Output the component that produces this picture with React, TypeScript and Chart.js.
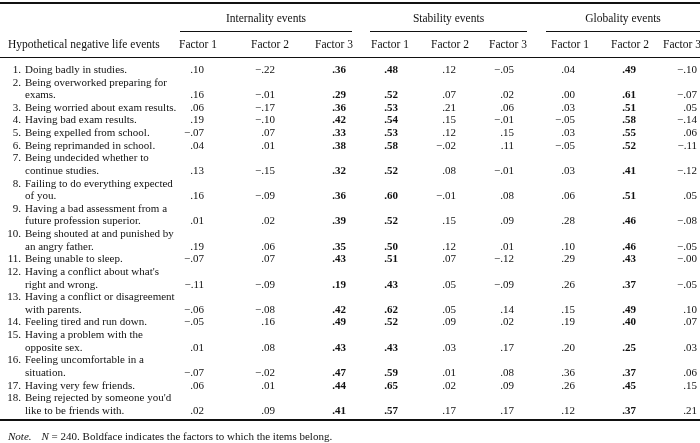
import React, { useEffect, useRef } from "react";
import { Chart, registerables } from "chart.js";
Chart.register(...registerables);

// ---------- data ----------
const itemLabels: string[][] = [
  ["Doing badly in studies."],
  ["Being overworked preparing for", "exams."],
  ["Being worried about exam results."],
  ["Having bad exam results."],
  ["Being expelled from school."],
  ["Being reprimanded in school."],
  ["Being undecided whether to", "continue studies."],
  ["Failing to do everything expected", "of you."],
  ["Having a bad assessment from a", "future profession superior."],
  ["Being shouted at and punished by", "an angry father."],
  ["Being unable to sleep."],
  ["Having a conflict about what's", "right and wrong."],
  ["Having a conflict or disagreement", "with parents."],
  ["Feeling tired and run down."],
  ["Having a problem with the", "opposite sex."],
  ["Feeling uncomfortable in a", "situation."],
  ["Having very few friends."],
  ["Being rejected by someone you'd", "like to be friends with."],
];

const internalityF1 = [.10, .16, .06, .19, -.07, .04, .13, .16, .01, .19, -.07, -.11, -.06, -.05, .01, -.07, .06, .02];
const internalityF2 = [-.22, -.01, -.17, -.10, .07, .01, -.15, -.09, .02, .06, .07, -.09, -.08, .16, .08, -.02, .01, .09];
const internalityF3 = [.36, .29, .36, .42, .33, .38, .32, .36, .39, .35, .43, .19, .42, .49, .43, .47, .44, .41];
const stabilityF1 = [.48, .52, .53, .54, .53, .58, .52, .60, .52, .50, .51, .43, .62, .52, .43, .59, .65, .57];
const stabilityF2 = [.12, .07, .21, .15, .12, -.02, .08, -.01, .15, .12, .07, .05, .05, .09, .03, .01, .02, .17];
const stabilityF3 = [-.05, .02, .06, -.01, .15, .11, -.01, .08, .09, .01, -.12, -.09, .14, .02, .17, .08, .09, .17];
const globalityF1 = [.04, .00, .03, -.05, .03, -.05, .03, .06, .28, .10, .29, .26, .15, .19, .20, .36, .26, .12];
const globalityF2 = [.49, .61, .51, .58, .55, .52, .41, .51, .46, .46, .43, .37, .49, .40, .25, .37, .45, .37];
const globalityF3 = [-.10, -.07, .05, -.14, .06, -.11, -.12, .05, -.08, -.05, -0, -.05, .10, .07, .03, .06, .15, .21];

const groupTitles = ["Internality events", "Stability events", "Globality events"];
const factorLabels = ["Factor 1", "Factor 2", "Factor 3"];
const boldFactor = [2, 0, 1]; // factor (0-based) in bold for each group
const rowHeader = "Hypothetical negative life events";
const noteLead = "Note.";
const noteN = "N";
const noteText = " = 240. Boldface indicates the factors to which the items belong.";

const columns = [internalityF1, internalityF2, internalityF3, stabilityF1, stabilityF2, stabilityF3, globalityF1, globalityF2, globalityF3];

// ---------- layout (not data) ----------
const COL_RIGHT = [204, 275, 346, 398, 456, 514, 575, 636, 697];
const COL_HEAD = [198, 270, 334, 390, 450, 508, 570, 630, 682];
const GROUP_LINE = [[180, 352], [370, 527], [546, 700]];
const NUM_RIGHT = 21;
const TEXT_X = 25;
const LEFT_X = 8;
const LINE_PX = 12.63;
const FIRST_LINE_PX = 70;
const H = 443;
const W = 700;
const Y_MIN = -FIRST_LINE_PX / LINE_PX;
const Y_MAX = Y_MIN + H / LINE_PX;
const FONT = "'Liberation Serif', 'Times New Roman', serif";
const FS = 11;
const FS_HEAD = 11.5;
const INK = "#111";

// line index of each item's first line
const itemStart: number[] = [];
{
  let l = 0;
  for (const lines of itemLabels) { itemStart.push(l); l += lines.length; }
}
const itemLast = itemLabels.map((lines, i) => itemStart[i] + lines.length - 1);
const totalLines = itemStart[itemStart.length - 1] + itemLabels[itemLabels.length - 1].length;

const fmt = (v: number) => {
  const neg = v < 0 || Object.is(v, -0);
  const s = String(Math.round(Math.abs(v) * 100)).padStart(2, "0");
  return (neg ? "\u2212" : "") + "." + s;
};

const tablePlugin = {
  id: "tableText",
  afterDraw(chart: any) {
    const ctx = chart.ctx as CanvasRenderingContext2D;
    const xs = chart.scales.x;
    const ys = chart.scales.y;
    const py = (l: number) => ys.getPixelForValue(l);
    ctx.save();
    ctx.fillStyle = INK;
    ctx.strokeStyle = INK;
    ctx.textBaseline = "middle";
    const normal = `${FS}px ${FONT}`;
    const bold = `bold ${FS}px ${FONT}`;
    const head = `${FS_HEAD}px ${FONT}`;

    const hline = (y: number, x0: number, x1: number, w: number) => {
      ctx.lineWidth = w;
      ctx.beginPath();
      ctx.moveTo(xs.getPixelForValue(x0), y);
      ctx.lineTo(xs.getPixelForValue(x1), y);
      ctx.stroke();
    };
    hline(Math.round(py(-5.3)), 0, W, 2);
    for (const [a, b] of GROUP_LINE) hline(Math.round(py(-3.05)) + 0.5, a, b, 1);
    hline(Math.round(py(-1)) + 0.5, 0, W, 1);
    hline(Math.round(py(totalLines - 0.3)), 0, W, 2);

    ctx.font = head;
    ctx.textAlign = "center";
    GROUP_LINE.forEach(([a, b], g) => {
      ctx.fillText(groupTitles[g], xs.getPixelForValue((a + b) / 2), py(-4));
    });
    COL_HEAD.forEach((cx, c) => {
      ctx.fillText(factorLabels[c % 3], xs.getPixelForValue(cx), py(-2));
    });
    ctx.textAlign = "left";
    ctx.fillText(rowHeader, xs.getPixelForValue(LEFT_X), py(-2));

    ctx.font = normal;
    const labMeta = chart.getDatasetMeta(columns.length);
    let k = 0;
    itemLabels.forEach((lines, i) => {
      lines.forEach((line, j) => {
        const el = labMeta.data[k++];
        if (j === 0) {
          ctx.textAlign = "right";
          ctx.fillText(`${i + 1}.`, xs.getPixelForValue(NUM_RIGHT), el.y);
        }
        ctx.textAlign = "left";
        ctx.fillText(line, el.x, el.y);
      });
    });

    ctx.textAlign = "right";
    columns.forEach((vals, c) => {
      const meta = chart.getDatasetMeta(c);
      const isBold = boldFactor[Math.floor(c / 3)] === c % 3;
      ctx.font = isBold ? bold : normal;
      meta.data.forEach((el: any, i: number) => {
        ctx.fillText(fmt(vals[i]), el.x, el.y);
      });
    });

    ctx.textAlign = "left";
    const ny = py(totalLines + 1.05);
    ctx.font = `italic ${FS}px ${FONT}`;
    const nx = xs.getPixelForValue(LEFT_X);
    ctx.fillText(noteLead, nx, ny);
    let x = nx + ctx.measureText(noteLead).width + 10;
    ctx.fillText(noteN, x, ny);
    x += ctx.measureText(noteN).width;
    ctx.font = normal;
    ctx.fillText(noteText, x, ny);
    ctx.restore();
  },
};

export default function App() {
  const ref = useRef<HTMLCanvasElement | null>(null);
  useEffect(() => {
    if (!ref.current) return;
    const datasets: any[] = columns.map((vals, c) => ({
      label: `col${c}`,
      data: vals.map((_, i) => ({ x: COL_RIGHT[c], y: itemLast[i] })),
      pointRadius: 0,
      showLine: false,
    }));
    const labelPts: { x: number; y: number }[] = [];
    itemLabels.forEach((lines, i) => lines.forEach((_, j) => labelPts.push({ x: TEXT_X, y: itemStart[i] + j })));
    datasets.push({ label: "labels", data: labelPts, pointRadius: 0, showLine: false });

    const chart = new Chart(ref.current, {
      type: "scatter",
      data: { datasets },
      options: {
        responsive: false,
        animation: false,
        layout: { padding: 0 },
        events: [],
        plugins: { legend: { display: false }, tooltip: { enabled: false } },
        scales: {
          x: { type: "linear", min: 0, max: W, display: false },
          y: { type: "linear", min: Y_MIN, max: Y_MAX, reverse: true, display: false },
        },
      },
      plugins: [tablePlugin],
    });
    return () => chart.destroy();
  }, []);
  return (
    <div style={{ position: "absolute", left: 0, top: 0, width: W, height: H, background: "#fff" }}>
      <canvas ref={ref} width={W} height={H} style={{ width: W, height: H, display: "block" }} />
    </div>
  );
}
